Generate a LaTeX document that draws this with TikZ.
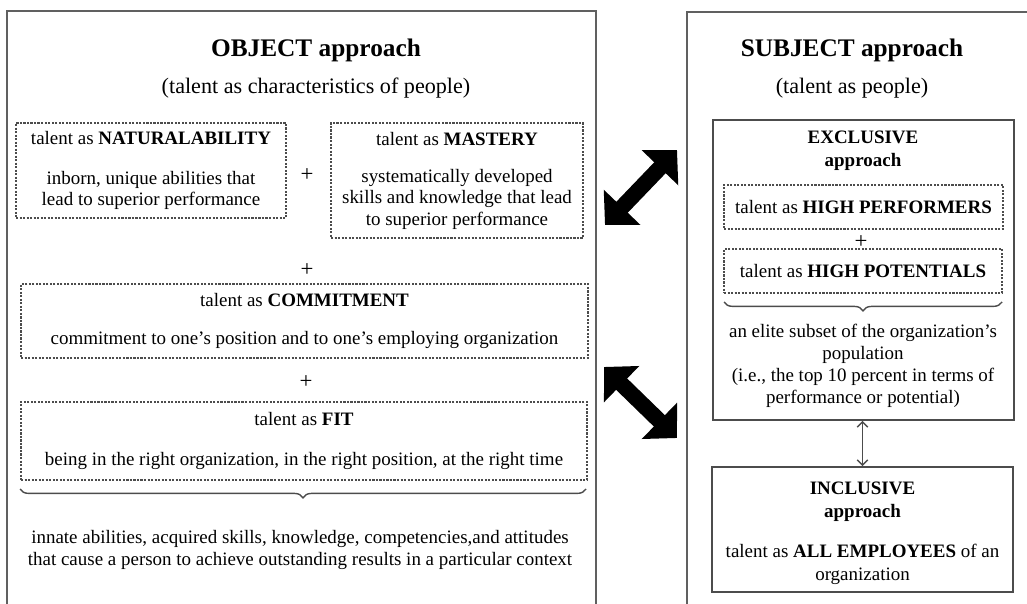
\documentclass[tikz,border=0pt]{standalone}
\usepackage{fontspec}
\setmainfont{Liberation Serif}
\usetikzlibrary{arrows.meta,decorations.pathreplacing,fit}

\tikzset{
  frame/.style={draw=gray!75!black, line width=1.1pt},
  solidbox/.style={draw=gray!60!black, line width=0.9pt, inner sep=0pt},
  dashbox/.style={draw=gray!60!black, line width=0.6pt, dash pattern=on 1.2pt off 0.8pt, inner sep=0pt},
  bigarrow/.style={line width=9pt, {Triangle[length=14pt,width=28pt]}-{Triangle[length=14pt,width=28pt]}},
  thinarrow/.style={draw=gray!60!black, line width=0.8pt, {Straight Barb[length=3pt,width=6pt]}-{Straight Barb[length=3pt,width=6pt]}},
  curly/.style={draw=gray!60!black, line width=0.8pt, decorate, decoration={brace, mirror, amplitude=5pt}},
  title/.style={font=\bfseries\fontsize{14.4}{17}\selectfont},
  subtitle/.style={font=\fontsize{12.6}{15}\selectfont},
  txt/.style={font=\fontsize{10.8}{12}\selectfont, align=center, inner sep=0pt},
  plus/.style={font=\fontsize{13}{15}\selectfont}
}

\begin{document}
\begin{tikzpicture}[x=0.02cm, y=-0.02cm]
\useasboundingbox (0,0) rectangle (1027,604);

% outer frames
\draw[frame] (7,604) -- (7,11) -- (596,11) -- (596,604);
\draw[frame] (687,604) -- (687,12) -- (1030,12);

% object approach
\node[title] (objtitle) at (316,50) {OBJECT approach};
\node[subtitle] (objsub) at (316,88) {(talent as characteristics of people)};

\node[dashbox, fit={(16,123) (286,218)}] (natural) {};
\node[txt] at (natural.center) {talent as \textbf{NATURALABILITY}\\[10.5pt]inborn, unique abilities that\\lead to superior performance};
\node[dashbox, fit={(331,123) (583,238)}] (mastery) {};
\node[txt] at (mastery.center) {talent as \textbf{MASTERY}\\[9.5pt]systematically developed\\skills and knowledge that lead\\to superior performance};
\node[plus] (plusa) at (307,175) {+};
\node[plus] (plusb) at (307,270) {+};
\node[dashbox, fit={(21,284) (588,358)}] (commit) {};
\node[txt] at (commit.center) {talent as \textbf{COMMITMENT}\\[10pt]commitment to one’s position and to one’s employing organization};
\node[plus] (plusc) at (306,382) {+};
\node[dashbox, fit={(21,402) (587,480)}] (fitbox) {};
\node[txt] at (fitbox.center) {talent as \textbf{FIT}\\[10.5pt]being in the right organization, in the right position, at the right time};

\coordinate (objl) at (20,489);
\coordinate (objr) at (586,489);
\draw[curly] (objl) -- (objr);
\node[txt, font=\fontsize{10.8}{12.5}\selectfont] (objdef) at (300,550) {innate abilities, acquired skills, knowledge, competencies,and attitudes\\that cause a person to achieve outstanding results in a particular context};

% subject approach
\node[title] (subjtitle) at (852,50) {SUBJECT approach};
\node[subtitle] (subjsub) at (852,88) {(talent as people)};

\node[solidbox, fit={(713,120) (1014,420)}] (exclusive) {};
\node[txt, font=\bfseries\fontsize{10.8}{13}\selectfont] (exctitle) at (863,151) {EXCLUSIVE\\approach};
\node[dashbox, fit={(724,185) (1003,229)}] (highperf) {};
\node[txt] at (highperf.center) {talent as \textbf{HIGH PERFORMERS}};
\node[plus] (plusd) at (861,242) {+};
\node[dashbox, fit={(724,249) (1002,293)}] (highpot) {};
\node[txt] at (highpot.center) {talent as \textbf{HIGH POTENTIALS}};

\coordinate (excl) at (724,302);
\coordinate (excr) at (1002,302);
\draw[curly] (excl) -- (excr);
\node[txt, font=\fontsize{10.8}{12.5}\selectfont] (elite) at (863,366) {an elite subset of the organization’s\\population\\(i.e., the top 10 percent in terms of\\performance or potential)};

\node[solidbox, fit={(712,467) (1013,592)}] (inclusive) {};
\node[txt, font=\fontsize{10.8}{13}\selectfont] at ([yshift=-2pt]inclusive.center) {\textbf{INCLUSIVE}\\\textbf{approach}\\[10pt]talent as \textbf{ALL EMPLOYEES} of an\\organization};

\draw[thinarrow] (exclusive.south -| inclusive.north) -- (inclusive.north);

% big arrows between approaches
\coordinate (upl) at (605,225);
\coordinate (upr) at (677,150);
\coordinate (lol) at (604,367);
\coordinate (lor) at (677,438);
\draw[bigarrow] (upl) -- (upr);
\draw[bigarrow] (lol) -- (lor);

\end{tikzpicture}
\end{document}
